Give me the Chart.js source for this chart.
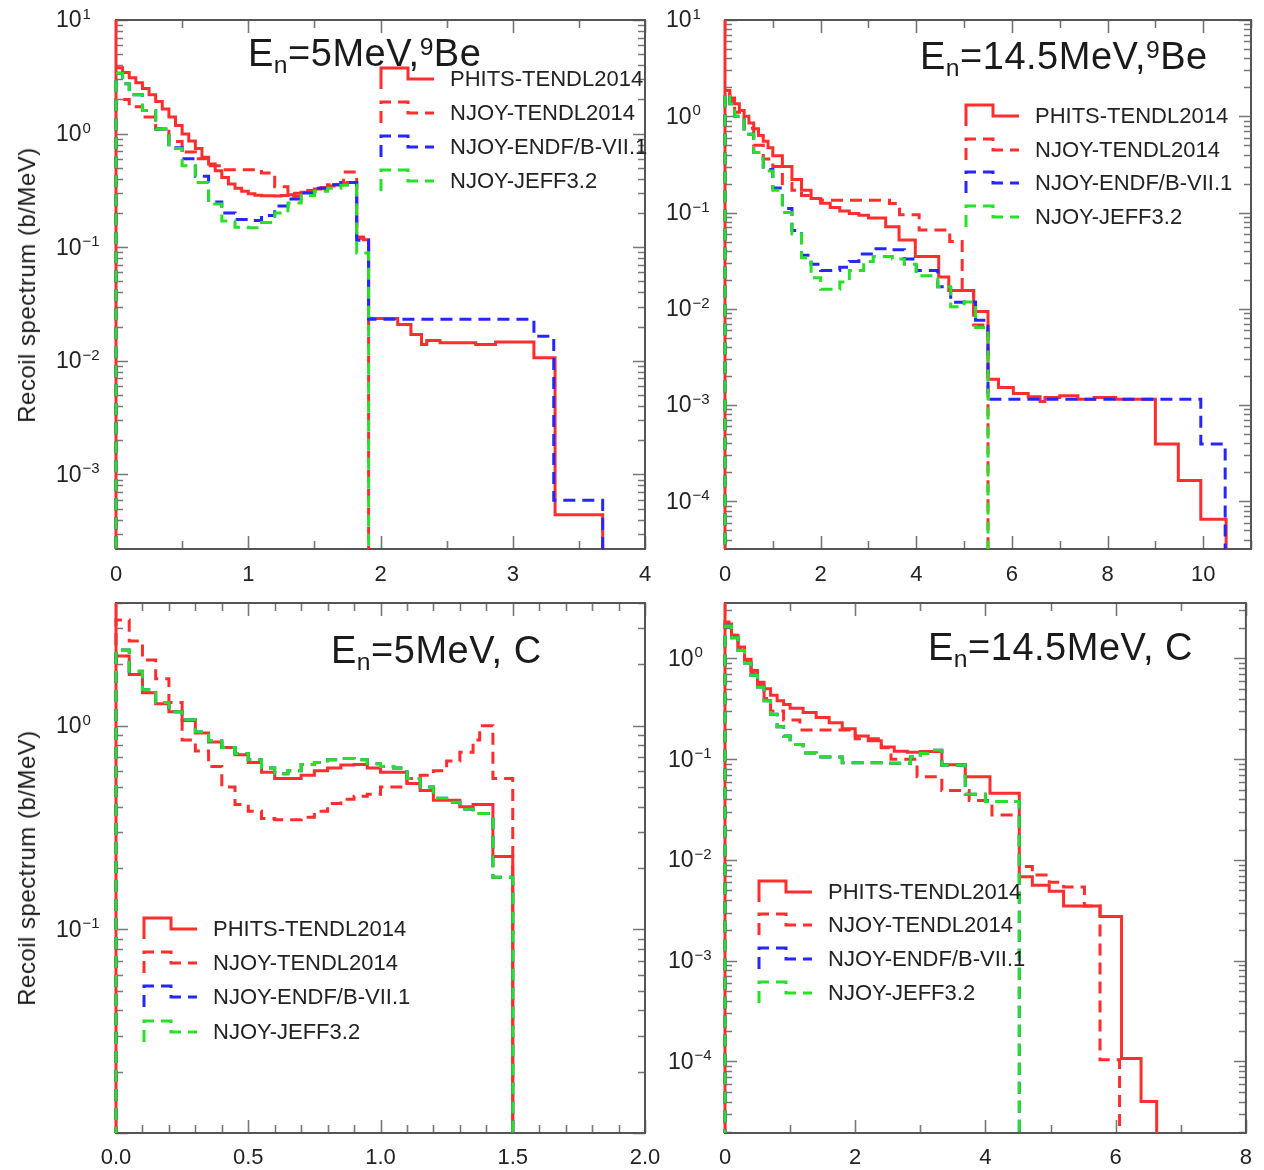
<!DOCTYPE html>
<html>
<head>
<meta charset="utf-8">
<script src="https://cdn.jsdelivr.net/npm/chart.js@4.4.1/dist/chart.umd.min.js"></script>
<style>
html,body{margin:0;padding:0;background:#fff;overflow:hidden;width:1264px;height:1170px;}
#wrap{position:relative;width:1264px;height:1170px;overflow:hidden;font-family:"Liberation Sans",Arial,sans-serif;color:#1a1a1a;}
#wrap canvas{position:absolute;}
.title{position:absolute;font-size:38px;line-height:38px;white-space:nowrap;letter-spacing:0.5px;}
.title sub,.title sup{font-size:0.65em;line-height:0;}
.title sub{vertical-align:-7px;}
.title sup{vertical-align:11px;}
.ytitle{position:absolute;font-size:24px;line-height:24px;white-space:nowrap;letter-spacing:0.5px;transform:translate(-50%,-50%) rotate(-90deg);}
.leg{position:absolute;font-size:22px;line-height:22px;white-space:nowrap;transform:translateY(-50%);color:#222;}
svg.sym{position:absolute;overflow:visible;}
</style>
</head>
<body>
<div id="wrap"></div>
<script>
// ---------------- DATA ----------------
const seriesNames = ['PHITS-TENDL2014', 'NJOY-TENDL2014', 'NJOY-ENDF/B-VII.1', 'NJOY-JEFF3.2'];

// Panel a: En = 5 MeV, 9Be   (bin edges in MeV, values in b/MeV)
const aPhitsEdges = [0,0.05,0.1,0.15,0.2,0.25,0.3,0.35,0.4,0.45,0.5,0.55,0.6,0.65,0.7,0.75,0.8,0.85,0.9,0.95,1.0,1.05,1.1,1.15,1.2,1.25,1.3,1.35,1.4,1.45,1.5,1.55,1.6,1.65,1.7,1.75,1.82,1.87,1.91,2.13,2.23,2.31,2.35,2.45,2.72,2.87,3.16,3.32,3.68];
const aPhitsVals = [3.8,3.45,3.1,2.8,2.5,2.2,1.92,1.65,1.4,1.18,0.99,0.86,0.74,0.62,0.54,0.47,0.41,0.36,0.33,0.31,0.295,0.286,0.283,0.283,0.282,0.285,0.29,0.298,0.305,0.315,0.325,0.335,0.345,0.355,0.365,0.37,0.123,0.116,0.0235,0.0208,0.017,0.0139,0.0151,0.0144,0.0139,0.0146,0.0106,0.00044];
const aTendlEdges = [0,0.1,0.2,0.3,0.4,0.5,0.6,0.7,0.8,0.9,1.0,1.1,1.2,1.3,1.4,1.5,1.6,1.72,1.82,1.91];
const aTendlVals = [2.0,1.72,1.4,1.1,0.85,0.69,0.6,0.52,0.48,0.48,0.48,0.45,0.34,0.28,0.29,0.32,0.355,0.46,0.12];
const aEndfEdges = [0,0.05,0.1,0.2,0.3,0.4,0.5,0.6,0.7,0.8,0.9,1.0,1.1,1.2,1.3,1.4,1.5,1.6,1.7,1.82,1.91,3.16,3.31,3.68];
const aEndfVals = [3.4,2.75,2.2,1.6,1.1,0.75,0.6,0.42,0.25,0.2,0.175,0.172,0.19,0.23,0.265,0.3,0.33,0.355,0.37,0.115,0.0232,0.0164,0.00059];
const aJeffEdges = [0,0.05,0.1,0.2,0.3,0.4,0.5,0.6,0.7,0.8,0.9,1.0,1.1,1.2,1.3,1.4,1.5,1.6,1.7,1.82,1.91];
const aJeffVals = [3.4,2.75,2.2,1.6,1.1,0.74,0.52,0.37,0.24,0.17,0.15,0.148,0.165,0.2,0.245,0.285,0.31,0.33,0.35,0.089];

// Panel b: En = 14.5 MeV, 9Be
const bPhitsEdges = [0,0.1,0.2,0.3,0.4,0.5,0.6,0.7,0.8,0.9,1.0,1.2,1.4,1.6,1.8,2.0,2.2,2.4,2.6,2.8,3.0,3.36,3.64,3.98,4.47,4.68,5.2,5.5,5.72,6.03,6.34,6.59,6.69,7.0,7.38,7.72,8.17,9.0,9.48,9.95,10.48];
const bPhitsVals = [1.85,1.55,1.35,1.15,1.0,0.85,0.74,0.63,0.55,0.47,0.39,0.30,0.22,0.17,0.14,0.125,0.113,0.104,0.098,0.094,0.088,0.071,0.052,0.035,0.0214,0.0155,0.0094,0.00186,0.00152,0.00132,0.00122,0.00109,0.0012,0.00125,0.00115,0.0012,0.00115,0.000395,0.000165,0.000065];
const bTendlEdges = [0,0.1,0.2,0.4,0.6,0.8,1.0,1.2,1.4,1.6,1.8,2.0,3.44,3.65,4.06,4.7,4.96,5.2,5.5];
const bTendlVals = [1.75,1.45,1.1,0.75,0.5,0.36,0.3,0.2,0.17,0.15,0.14,0.134,0.124,0.095,0.066,0.05,0.0155,0.0068];
const bEndfEdges = [0,0.1,0.2,0.4,0.6,0.8,1.0,1.2,1.4,1.6,1.8,2.0,2.4,2.6,2.8,3.1,3.5,3.75,4.0,4.45,4.72,5.0,5.24,5.5,9.95,10.46];
const bEndfVals = [1.7,1.35,1.0,0.65,0.42,0.28,0.18,0.11,0.065,0.036,0.029,0.025,0.027,0.031,0.037,0.042,0.041,0.033,0.025,0.017,0.0117,0.0118,0.0076,0.00115,0.000395];
const bJeffEdges = [0,0.1,0.2,0.4,0.6,0.8,1.0,1.2,1.4,1.6,1.8,2.0,2.4,2.6,2.9,3.1,3.5,3.75,4.0,4.45,4.72,5.0,5.24,5.5];
const bJeffVals = [1.7,1.35,1.0,0.65,0.42,0.27,0.17,0.1,0.06,0.034,0.021,0.016,0.019,0.025,0.031,0.035,0.033,0.029,0.022,0.017,0.0105,0.0118,0.0064];

// Panel c: En = 5 MeV, C
const cPhitsEdges = [0,0.05,0.1,0.15,0.2,0.25,0.3,0.35,0.4,0.45,0.5,0.55,0.6,0.65,0.7,0.75,0.8,0.85,0.9,0.95,1.0,1.05,1.1,1.15,1.2,1.25,1.3,1.35,1.425,1.5];
const cPhitsVals = [2.2,1.78,1.45,1.28,1.17,1.06,0.92,0.83,0.78,0.72,0.66,0.59,0.55,0.55,0.57,0.6,0.62,0.64,0.645,0.62,0.59,0.59,0.52,0.48,0.43,0.43,0.4,0.41,0.228];
const cTendlEdges = [0,0.05,0.1,0.15,0.2,0.25,0.3,0.35,0.4,0.45,0.5,0.55,0.6,0.65,0.7,0.75,0.8,0.85,0.9,0.95,1.0,1.05,1.1,1.15,1.2,1.25,1.3,1.35,1.375,1.425,1.5];
const cTendlVals = [3.3,2.6,2.1,1.7,1.3,0.85,0.75,0.63,0.5,0.41,0.38,0.35,0.345,0.345,0.355,0.38,0.415,0.435,0.45,0.46,0.5,0.5,0.55,0.57,0.6,0.67,0.74,0.85,1.0,0.55];
const cEndfEdges = [0,0.05,0.1,0.15,0.2,0.25,0.3,0.35,0.4,0.45,0.5,0.55,0.6,0.65,0.7,0.75,0.8,0.85,0.9,0.95,1.0,1.05,1.1,1.15,1.2,1.25,1.3,1.35,1.425,1.5];
const cEndfVals = [2.35,1.85,1.5,1.3,1.17,1.07,0.93,0.84,0.78,0.73,0.68,0.62,0.58,0.6,0.645,0.66,0.68,0.69,0.68,0.65,0.63,0.62,0.55,0.5,0.44,0.42,0.39,0.37,0.18];
const cJeffEdges = [0,0.05,0.1,0.15,0.2,0.25,0.3,0.35,0.4,0.45,0.5,0.55,0.6,0.65,0.7,0.75,0.8,0.85,0.9,0.95,1.0,1.05,1.1,1.15,1.2,1.25,1.3,1.35,1.425,1.5];
const cJeffVals = [2.35,1.85,1.5,1.3,1.17,1.07,0.93,0.84,0.78,0.73,0.68,0.62,0.58,0.6,0.645,0.66,0.68,0.69,0.68,0.65,0.63,0.62,0.55,0.5,0.44,0.42,0.39,0.37,0.18];

// Panel d: En = 14.5 MeV, C
const dPhitsEdges = [0,0.1,0.2,0.3,0.4,0.5,0.6,0.7,0.8,0.9,1.0,1.2,1.4,1.6,1.8,2.0,2.2,2.4,2.6,2.8,3.0,3.33,3.69,4.07,4.52,4.72,4.98,5.2,5.76,6.09,6.39,6.63];
const dPhitsVals = [2.2,1.7,1.3,0.98,0.76,0.58,0.5,0.43,0.38,0.35,0.32,0.29,0.26,0.23,0.2,0.17,0.152,0.132,0.12,0.117,0.119,0.088,0.067,0.046,0.0068,0.0056,0.0049,0.0035,0.00275,0.000107,0.00004];
const dTendlEdges = [0,0.1,0.2,0.3,0.4,0.5,0.6,0.7,0.9,1.15,2.0,2.4,2.55,2.95,3.33,3.75,4.1,4.52,4.72,4.98,5.2,5.52,5.76,6.06];
const dTendlVals = [2.3,1.7,1.25,0.95,0.72,0.55,0.4,0.3,0.245,0.195,0.16,0.13,0.1,0.067,0.049,0.039,0.028,0.0086,0.0071,0.006,0.0054,0.0035,0.000104];
const dEndfEdges = [0,0.1,0.2,0.3,0.4,0.5,0.6,0.7,0.8,0.9,1.0,1.2,1.4,1.8,2.5,2.85,3.0,3.15,3.33,3.69,4.0,4.52];
const dEndfVals = [2.1,1.6,1.2,0.9,0.68,0.52,0.38,0.28,0.21,0.17,0.14,0.115,0.105,0.092,0.091,0.105,0.114,0.123,0.087,0.045,0.038];
const dJeffEdges = [0,0.1,0.2,0.3,0.4,0.5,0.6,0.7,0.8,0.9,1.0,1.2,1.4,1.8,2.5,2.85,3.0,3.15,3.33,3.69,4.0,4.52];
const dJeffVals = [2.1,1.6,1.2,0.9,0.68,0.52,0.38,0.28,0.21,0.17,0.14,0.115,0.105,0.092,0.091,0.105,0.114,0.123,0.087,0.045,0.038];

// Axis ticks and labels
const aXTicks = [0,0.5,1,1.5,2,2.5,3,3.5,4];
const aXLabels = ['0','','1','','2','','3','','4'];
const bXTicks = [0,1,2,3,4,5,6,7,8,9,10,11];
const bXLabels = ['0','','2','','4','','6','','8','','10',''];
const cXTicks = [0,0.1,0.2,0.3,0.4,0.5,0.6,0.7,0.8,0.9,1.0,1.1,1.2,1.3,1.4,1.5,1.6,1.7,1.8,1.9,2.0];
const cXLabels = ['0.0','','','','','0.5','','','','','1.0','','','','','1.5','','','','','2.0'];
const dXTicks = [0,1,2,3,4,5,6,7,8];
const dXLabels = ['0','','2','','4','','6','','8'];

// Y decade labels: "10" with these exponents
const aYExps = [-3,-2,-1,0,1];
const aYExpText = ['\u22123','\u22122','\u22121','0','1'];
const bYExps = [-4,-3,-2,-1,0,1];
const bYExpText = ['\u22124','\u22123','\u22122','\u22121','0','1'];
const cYExps = [-1,0];
const cYExpText = ['\u22121','0'];
const dYExps = [-4,-3,-2,-1,0];
const dYExpText = ['\u22124','\u22123','\u22122','\u22121','0'];

const yTitle = 'Recoil spectrum (b/MeV)';

// ---------------- RENDERING ----------------
const RED = 'rgb(255,46,46)';
const BLUE = 'rgb(38,38,255)';
const GREEN = 'rgb(40,224,40)';
const FONT = '"Liberation Sans", Arial, sans-serif';
const FLOOR = 1e-8;   // below every axis: closes the histograms at the bottom
const SPIKE = 1e4;    // above every axis: vertical line at E=0 for PHITS

function stepPoints(edges, vals, spike) {
  const pts = [{x: edges[0], y: FLOOR}];
  if (spike) pts.push({x: edges[0], y: SPIKE});
  for (let i = 0; i < vals.length; i++) pts.push({x: edges[i], y: vals[i]});
  const n = edges.length - 1;
  pts.push({x: edges[n], y: vals[vals.length - 1]});
  pts.push({x: edges[n], y: FLOOR});
  return pts;
}

const frameTicks = {
  id: 'frameTicks',
  beforeDatasetsDraw(chart) {
    const {ctx, chartArea: a, scales: {x, y}} = chart;
    ctx.save();
    ctx.strokeStyle = '#777';
    ctx.lineWidth = 1.6;
    ctx.beginPath();
    x.ticks.forEach(t => {
      const px = Math.round(x.getPixelForValue(t.value)) + 0.5;
      const len = t.major ? 13 : 8;
      ctx.moveTo(px, a.bottom); ctx.lineTo(px, a.bottom - len);
      ctx.moveTo(px, a.top); ctx.lineTo(px, a.top + len);
    });
    y.ticks.forEach(t => {
      const py = Math.round(y.getPixelForValue(t.value)) + 0.5;
      const len = t.major ? 12 : 7;
      ctx.moveTo(a.left, py); ctx.lineTo(a.left + len, py);
      ctx.moveTo(a.right, py); ctx.lineTo(a.right - len, py);
    });
    ctx.stroke();
    ctx.strokeStyle = '#555';
    ctx.lineWidth = 2;
    ctx.strokeRect(a.left, a.top, a.right - a.left, a.bottom - a.top);
    ctx.restore();
  },
  afterDraw(chart) {
    // decade labels "10^k" placed with the y scale
    const {ctx, scales: {y}} = chart;
    const lx = chart.options.layout.padding.left;
    ctx.save();
    ctx.fillStyle = '#222';
    ctx.textAlign = 'left';
    y.ticks.forEach(t => {
      if (t.expText === undefined) return;
      const py = y.getPixelForValue(t.value);
      ctx.font = '23px ' + FONT;
      ctx.textBaseline = 'middle';
      ctx.fillText('10', lx, py + 1);
      const w = ctx.measureText('10').width;
      ctx.font = '15px ' + FONT;
      ctx.textBaseline = 'alphabetic';
      ctx.fillText(t.expText, lx + w + 1, py - 1);
    });
    ctx.restore();
  }
};

const wrap = document.getElementById('wrap');

function makePanel(p) {
  const cv = document.createElement('canvas');
  cv.width = p.cw; cv.height = p.ch;
  cv.style.left = p.cx + 'px'; cv.style.top = p.cy + 'px';
  cv.style.width = p.cw + 'px'; cv.style.height = p.ch + 'px';
  wrap.appendChild(cv);
  const L = p.area[0] - p.cx, T = p.area[1] - p.cy, R = p.area[2] - p.cx, B = p.area[3] - p.cy;
  const padL = p.yLabelX - p.cx;
  const yW = L - padL;
  const xH = p.xH;
  const series = [
    {edges: p.phitsE, vals: p.phitsV, color: RED, dash: [], order: 3, spike: true},
    {edges: p.tendlE, vals: p.tendlV, color: RED, dash: [12, 7], order: 2},
    {edges: p.endfE, vals: p.endfV, color: BLUE, dash: [12, 7], order: 1},
    {edges: p.jeffE, vals: p.jeffV, color: GREEN, dash: [12, 7], order: 0}
  ];
  const datasets = series.map((s, i) => ({
    label: seriesNames[i],
    data: stepPoints(s.edges, s.vals, s.spike),
    borderColor: s.color,
    backgroundColor: s.color,
    borderWidth: 3,
    borderDash: s.dash,
    borderCapStyle: 'butt',
    borderJoinStyle: 'miter',
    stepped: 'before',
    pointRadius: 0,
    pointHoverRadius: 0,
    fill: false,
    order: s.order,
    clip: {left: 3, top: 0, right: 0, bottom: 0}
  }));
  new Chart(cv, {
    type: 'line',
    data: {datasets},
    options: {
      responsive: false,
      animation: false,
      devicePixelRatio: 1,
      events: [],
      layout: {padding: {left: padL, top: T, right: p.cw - R, bottom: p.ch - B - xH}},
      plugins: {legend: {display: false}, tooltip: {enabled: false}, title: {display: false}},
      scales: {
        x: {
          type: 'linear', min: p.xMin, max: p.xMax,
          grid: {display: false, drawTicks: false},
          border: {display: false},
          afterBuildTicks: s => { s.ticks = p.xTicks.map((v, i) => ({value: v, lbl: p.xLabels[i], major: p.xLabels[i] !== ''})); },
          afterFit: s => { s.height = xH; },
          ticks: {
            autoSkip: false, maxRotation: 0, minRotation: 0, padding: p.xPad,
            color: '#222', font: {family: FONT, size: 22},
            callback: (v, i, ticks) => ticks[i].lbl
          }
        },
        y: {
          type: 'logarithmic', min: p.yMin, max: p.yMax,
          grid: {display: false, drawTicks: false},
          border: {display: false},
          afterBuildTicks: s => {
            const out = [];
            const k0 = Math.floor(Math.log10(p.yMin)), k1 = Math.floor(Math.log10(p.yMax));
            for (let k = k0; k <= k1; k++) {
              for (let m = 1; m <= 9; m++) {
                const v = m * Math.pow(10, k);
                if (v < p.yMin * 0.999 || v > p.yMax * 1.001) continue;
                const idx = p.yExps.indexOf(k);
                const tk = {value: v, major: m === 1};
                if (m === 1 && idx >= 0) tk.expText = p.yExpText[idx];
                out.push(tk);
              }
            }
            s.ticks = out;
          },
          afterFit: s => { s.width = yW; },
          ticks: {display: false, autoSkip: false}
        }
      }
    },
    plugins: [frameTicks]
  });

  // title
  const t = document.createElement('div');
  t.className = 'title';
  t.style.left = p.title.x + 'px';
  t.style.top = p.title.y + 'px';
  t.innerHTML = p.title.html;
  wrap.appendChild(t);

  // legend
  const colors = [RED, RED, BLUE, GREEN];
  p.legend.rows.forEach((cy, i) => {
    const sx = p.legend.x;
    const svgNS = 'http://www.w3.org/2000/svg';
    const svg = document.createElementNS(svgNS, 'svg');
    svg.setAttribute('class', 'sym');
    svg.setAttribute('width', '60'); svg.setAttribute('height', '30');
    svg.style.left = (sx - 2) + 'px';
    svg.style.top = (cy - 13) + 'px';
    const path = document.createElementNS(svgNS, 'path');
    path.setAttribute('d', 'M2,23 V2 H29 V13 H55');
    path.setAttribute('fill', 'none');
    path.setAttribute('stroke', colors[i]);
    path.setAttribute('stroke-width', '3');
    path.setAttribute('stroke-linejoin', 'miter');
    if (i > 0) path.setAttribute('stroke-dasharray', '12 7');
    svg.appendChild(path);
    wrap.appendChild(svg);
    const lt = document.createElement('div');
    lt.className = 'leg';
    lt.style.left = (sx + 69) + 'px';
    lt.style.top = cy + 'px';
    lt.textContent = seriesNames[i];
    wrap.appendChild(lt);
  });

  if (p.yTitle) {
    const yt = document.createElement('div');
    yt.className = 'ytitle';
    yt.style.left = p.yTitle.x + 'px';
    yt.style.top = p.yTitle.y + 'px';
    yt.textContent = yTitle;
    wrap.appendChild(yt);
  }
}

makePanel({
  cx: 0, cy: 0, cw: 680, ch: 600, area: [116, 20, 645, 549], yLabelX: 56, xPad: 13, xH: 45,
  xMin: 0, xMax: 4, yMin: 2.2e-4, yMax: 10,
  xTicks: aXTicks, xLabels: aXLabels, yExps: aYExps, yExpText: aYExpText,
  phitsE: aPhitsEdges, phitsV: aPhitsVals, tendlE: aTendlEdges, tendlV: aTendlVals,
  endfE: aEndfEdges, endfV: aEndfVals, jeffE: aJeffEdges, jeffV: aJeffVals,
  title: {x: 248, y: 33.8, html: 'E<sub>n</sub>=5MeV,<sup>9</sup>Be'},
  legend: {x: 381, rows: [79, 113, 147, 181]},
  yTitle: {x: 27, y: 284.5}
});
makePanel({
  cx: 640, cy: 0, cw: 624, ch: 600, area: [725, 20, 1256, 549], yLabelX: 666, xPad: 13, xH: 45,
  xMin: 0, xMax: 11, yMin: 3.2e-5, yMax: 10,
  xTicks: bXTicks, xLabels: bXLabels, yExps: bYExps, yExpText: bYExpText,
  phitsE: bPhitsEdges, phitsV: bPhitsVals, tendlE: bTendlEdges, tendlV: bTendlVals,
  endfE: bEndfEdges, endfV: bEndfVals, jeffE: bJeffEdges, jeffV: bJeffVals,
  title: {x: 920, y: 36.8, html: 'E<sub>n</sub>=14.5MeV,<sup>9</sup>Be'},
  legend: {x: 966, rows: [116, 150, 183, 217]}
});
makePanel({
  cx: 0, cy: 590, cw: 680, ch: 585, area: [116, 603, 645, 1133], yLabelX: 56, xPad: 12, xH: 40,
  xMin: 0, xMax: 2, yMin: 0.01, yMax: 4,
  xTicks: cXTicks, xLabels: cXLabels, yExps: cYExps, yExpText: cYExpText,
  phitsE: cPhitsEdges, phitsV: cPhitsVals, tendlE: cTendlEdges, tendlV: cTendlVals,
  endfE: cEndfEdges, endfV: cEndfVals, jeffE: cJeffEdges, jeffV: cJeffVals,
  title: {x: 331, y: 630.8, html: 'E<sub>n</sub>=5MeV, C'},
  legend: {x: 144, rows: [929, 963, 997, 1032]},
  yTitle: {x: 27, y: 868}
});
makePanel({
  cx: 640, cy: 590, cw: 624, ch: 585, area: [725, 603, 1256, 1133], yLabelX: 668, xPad: 12, xH: 40,
  xMin: 0, xMax: 8, yMin: 1.95e-5, yMax: 3.55,
  xTicks: dXTicks, xLabels: dXLabels, yExps: dYExps, yExpText: dYExpText,
  phitsE: dPhitsEdges, phitsV: dPhitsVals, tendlE: dTendlEdges, tendlV: dTendlVals,
  endfE: dEndfEdges, endfV: dEndfVals, jeffE: dJeffEdges, jeffV: dJeffVals,
  title: {x: 928, y: 627.8, html: 'E<sub>n</sub>=14.5MeV, C'},
  legend: {x: 759, rows: [892, 925, 959, 993]}
});
</script>
</body>
</html>
